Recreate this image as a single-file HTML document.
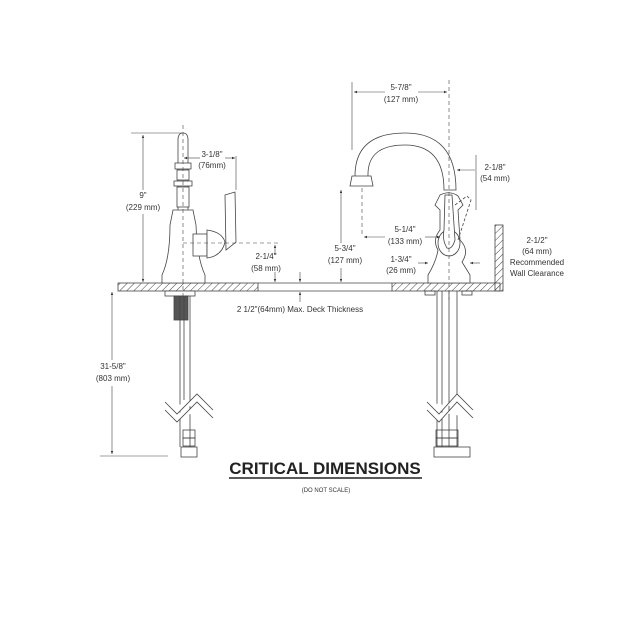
<!DOCTYPE html>
<html><head><meta charset="utf-8"><style>
html,body{margin:0;padding:0;background:#fff}
svg{display:block}
text{font-family:"Liberation Sans",sans-serif;fill:#333;font-size:8px;text-anchor:middle}
</style></head><body>
<svg width="640" height="640" viewBox="0 0 640 640" xmlns="http://www.w3.org/2000/svg">
<defs>
<pattern id="h" width="5" height="5" patternUnits="userSpaceOnUse" patternTransform="rotate(45)">
<line x1="0" y1="0" x2="0" y2="5" stroke="#444" stroke-width="1"/></pattern>
<marker id="a" markerWidth="6" markerHeight="6" refX="5" refY="3" orient="auto"><path d="M0,1 L5,3 L0,5z" fill="#333"/></marker>
</defs>
<g stroke="#444" fill="none" stroke-width="0.8">
<rect x="118" y="283" width="140" height="8" fill="url(#h)"/>
<rect x="392" y="283" width="108" height="8" fill="url(#h)"/>
<rect x="495" y="225" width="8" height="66" fill="url(#h)"/>
<line x1="258" y1="283" x2="392" y2="283"/>
<line x1="258" y1="291" x2="392" y2="291"/>
<!-- left faucet -->
<path d="M178,283 L178,140 Q178,133 183,133 Q188,133 188,140 L188,283" fill="#fff"/>
<rect x="175" y="163" width="16" height="6" fill="#fff"/>
<rect x="177" y="170" width="12" height="10" fill="#fff"/>
<rect x="174" y="181" width="18" height="5" fill="#fff"/>
<rect x="177" y="187" width="12" height="20" fill="#fff"/>
<path d="M173,210 L193,210 L196,225 Q197,258 205,275 L205,283 L162,283 L162,275 Q170,258 170,225z" fill="#fff"/>
<rect x="193" y="234" width="14" height="22" fill="#fff"/>
<path d="M207,230 Q222,232 225,242 Q222,256 207,258z" fill="#fff"/>
<path d="M225,195 L235,192 L236,242 L226,250z" fill="#fff"/>
<rect x="165" y="291" width="30" height="5" fill="#fff"/>
<rect x="174" y="296" width="14" height="24" fill="#555"/>
<line x1="180" y1="296" x2="180" y2="447"/><line x1="190" y1="296" x2="190" y2="447"/>
<line x1="184" y1="296" x2="184" y2="400"/>
<path d="M165,402 L177,414 L197,394 L213,410 M165,410 L177,422 L197,402 L213,418" fill="#fff"/>
<rect x="183" y="430" width="12" height="8"/><rect x="183" y="438" width="12" height="8"/>
<rect x="181" y="447" width="16" height="10" fill="#fff"/>
<!-- right faucet -->
<path d="M355,176 Q355,133 405,133 Q456,133 456,190 L444,190 Q444,145 405,145 Q367,145 368,176" fill="#fff"/>
<path d="M352,176 L371,176 L373,186 L350,186z" fill="#fff"/>
<path d="M440,195 Q450,190 458,196 L463,205 L458,210 L460,240 Q470,250 462,262 L470,275 L470,283 L428,283 L428,275 Q436,262 438,250 Q432,240 440,230 L440,210 L435,205z" fill="#fff"/>
<ellipse cx="449" cy="243" rx="11" ry="13" fill="#fff"/>
<path d="M445,195 L452,195 L455,240 Q452,250 447,248 Q442,240 444,230z" fill="#fff"/>
<path d="M455,205 L467,196 L471,200 L458,240" stroke-dasharray="3,2"/>
<rect x="425" y="291" width="10" height="4"/><rect x="462" y="291" width="10" height="4"/>
<line x1="437" y1="291" x2="437" y2="447"/><line x1="442" y1="291" x2="442" y2="447"/>
<line x1="449" y1="291" x2="449" y2="447"/><line x1="457" y1="291" x2="457" y2="447"/>
<path d="M427,402 L439,414 L457,394 L473,410 M427,410 L439,422 L457,402 L473,418" fill="#fff"/>
<rect x="436" y="430" width="22" height="8"/><rect x="436" y="438" width="22" height="8"/>
<rect x="434" y="447" width="36" height="10" fill="#fff"/>
</g>
<g stroke="#444" stroke-width="0.6" fill="none">
<line x1="183" y1="125" x2="183" y2="300" stroke-dasharray="4,3"/>
<line x1="449" y1="80" x2="449" y2="300" stroke-dasharray="4,3"/>
<line x1="131" y1="133" x2="183" y2="133"/>
<line x1="143" y1="190" x2="143" y2="135" marker-end="url(#a)"/>
<line x1="143" y1="214" x2="143" y2="282" marker-end="url(#a)"/>
<line x1="236" y1="156" x2="236" y2="190"/>
<line x1="200" y1="158" x2="184" y2="158" marker-end="url(#a)"/>
<line x1="225" y1="158" x2="235" y2="158" marker-end="url(#a)"/>
<line x1="183" y1="243" x2="278" y2="243" stroke-dasharray="4,3"/>
<line x1="275" y1="255" x2="275" y2="245" marker-end="url(#a)"/>
<line x1="275" y1="272" x2="275" y2="282" marker-end="url(#a)"/>
<line x1="300" y1="272" x2="300" y2="282" marker-end="url(#a)"/>
<line x1="300" y1="302" x2="300" y2="292" marker-end="url(#a)"/>
<line x1="112" y1="360" x2="112" y2="292" marker-end="url(#a)"/>
<line x1="112" y1="386" x2="112" y2="454" marker-end="url(#a)"/>
<line x1="100" y1="456" x2="168" y2="456"/>
<line x1="352" y1="82" x2="352" y2="150"/>
<line x1="385" y1="92" x2="354" y2="92" marker-end="url(#a)"/>
<line x1="418" y1="92" x2="447" y2="92" marker-end="url(#a)"/>
<line x1="476" y1="155" x2="476" y2="210"/>
<line x1="475" y1="170" x2="457" y2="170" marker-end="url(#a)"/>
<line x1="362" y1="188" x2="362" y2="237" stroke-dasharray="4,3"/>
<line x1="385" y1="237" x2="364" y2="237" marker-end="url(#a)"/>
<line x1="425" y1="237" x2="440" y2="237" marker-end="url(#a)"/>
<line x1="341" y1="243" x2="341" y2="190" marker-end="url(#a)"/>
<line x1="341" y1="268" x2="341" y2="282" marker-end="url(#a)"/>
<line x1="418" y1="263" x2="428" y2="263" marker-end="url(#a)"/>
<line x1="480" y1="263" x2="470" y2="263" marker-end="url(#a)"/>
</g>
<text x="143" y="198">9"</text><text x="143" y="210">(229 mm)</text>
<text x="212" y="157">3-1/8"</text><text x="212" y="168">(76mm)</text>
<text x="266" y="259">2-1/4"</text><text x="266" y="271">(58 mm)</text>
<text x="300" y="312">2 1/2"(64mm) Max. Deck Thickness</text>
<text x="113" y="369">31-5/8"</text><text x="113" y="381">(803 mm)</text>
<text x="401" y="90">5-7/8"</text><text x="401" y="102">(127 mm)</text>
<text x="495" y="170">2-1/8"</text><text x="495" y="181">(54 mm)</text>
<text x="405" y="232">5-1/4"</text><text x="405" y="244">(133 mm)</text>
<text x="345" y="251">5-3/4"</text><text x="345" y="263">(127 mm)</text>
<text x="401" y="262">1-3/4"</text><text x="401" y="273">(26 mm)</text>
<text x="537" y="243">2-1/2"</text><text x="537" y="254">(64 mm)</text>
<text x="537" y="265">Recommended</text><text x="537" y="276">Wall Clearance</text>
<text x="325" y="474" style="font-size:17px;font-weight:bold;fill:#222">CRITICAL DIMENSIONS</text>
<line x1="229" y1="478" x2="422" y2="478" stroke="#222" stroke-width="1.5"/>
<text x="326" y="492" style="font-size:6px">(DO NOT SCALE)</text>
</svg>
</body></html>
